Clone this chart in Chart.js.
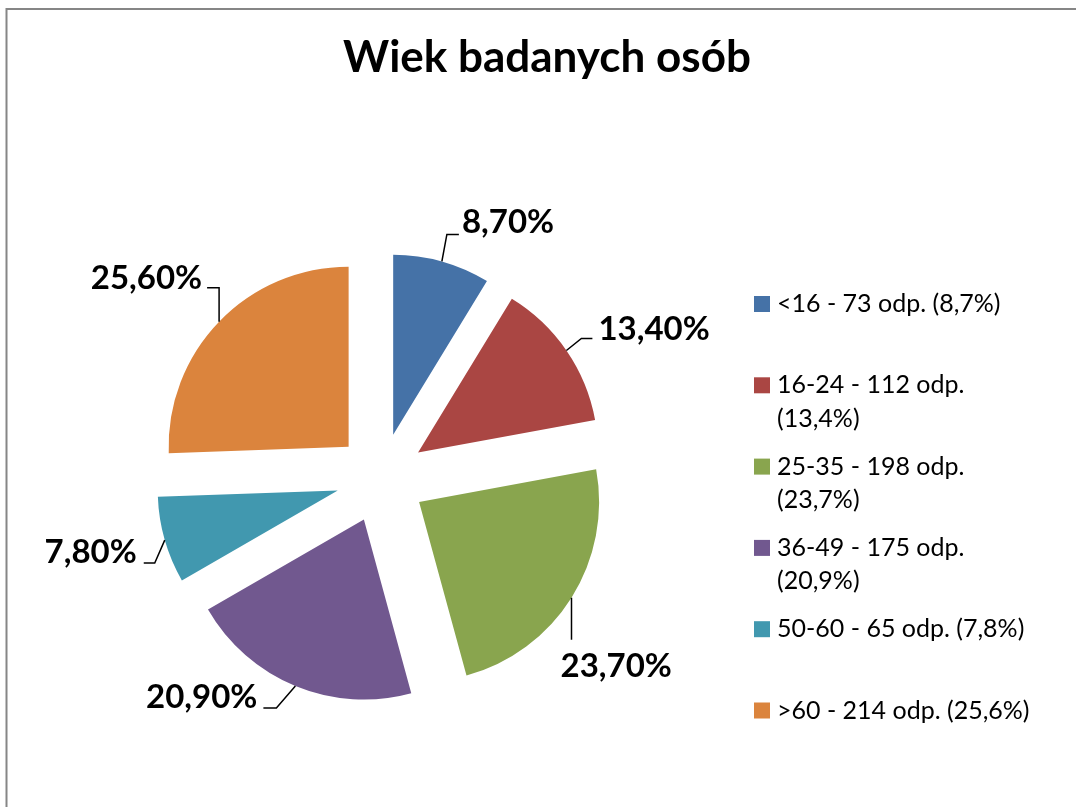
<!DOCTYPE html>
<html>
<head>
<meta charset="utf-8">
<script src="https://cdn.jsdelivr.net/npm/chart.js@4"></script>
<style>
  html, body { margin: 0; padding: 0; background: #fff; }
  canvas { display: block; }
</style>
</head>
<body>
<canvas id="ageChart" width="1076" height="807"></canvas>
<script>
// Data
const chartTitle = 'Wiek badanych osób';
const categories = ['<16', '16-24', '25-35', '36-49', '50-60', '>60'];
const counts = [73, 112, 198, 175, 65, 214];
const percents = [8.7, 13.4, 23.7, 20.9, 7.8, 25.6];
const legendLabels = [
  ['<16 - 73 odp. (8,7%)'],
  ['16-24 - 112 odp.', '(13,4%)'],
  ['25-35 - 198 odp.', '(23,7%)'],
  ['36-49 - 175 odp.', '(20,9%)'],
  ['50-60 - 65 odp. (7,8%)'],
  ['>60 - 214 odp. (25,6%)']
];
const colors = ['#4572A7', '#AA4643', '#89A54E', '#71588F', '#4198AF', '#DB843D'];

const EXPLODE = 45;
const FONT = 'Lato, "Open Sans", sans-serif';

// leader line: elbow / end relative to slice edge, text relative to slice edge
const leaders = [
  { elbow: [5, -27], end: [17, -27], text: [20, -28], align: 'left' },
  { elbow: [15, -12], end: [26, -12], text: [32, -11], align: 'left' },
  { elbow: [0, 42], end: [0, 42], text: [-11, 79], align: 'left' },
  { elbow: [-19, 22], end: [-32, 22], text: [-38, 22], align: 'right' },
  { elbow: [-10, 23], end: [-21, 23], text: [-28, 23], align: 'right' },
  { elbow: [0, -34], end: [-12, -34], text: [-17, -33], align: 'right' }
];

const fmtPct = p => p.toFixed(2).replace('.', ',') + '%';

// draw slices pulled out from the centre
const explodePlugin = {
  id: 'explode',
  beforeDatasetDraw(chart, args) {
    const ctx = chart.ctx;
    args.meta.data.forEach(arc => {
      const mid = (arc.startAngle + arc.endAngle) / 2;
      ctx.save();
      ctx.translate(Math.cos(mid) * EXPLODE, Math.sin(mid) * EXPLODE);
      arc.draw(ctx);
      ctx.restore();
    });
    return false;
  }
};

// percent labels with leader lines
const labelPlugin = {
  id: 'pctLabels',
  afterDatasetsDraw(chart) {
    const ctx = chart.ctx;
    const arcs = chart.getDatasetMeta(0).data;
    ctx.save();
    ctx.strokeStyle = '#000';
    ctx.lineWidth = 1.5;
    ctx.fillStyle = '#000';
    ctx.font = 'bold 33px ' + FONT;
    ctx.textBaseline = 'alphabetic';
    arcs.forEach((arc, i) => {
      const mid = (arc.startAngle + arc.endAngle) / 2;
      const r = arc.outerRadius + EXPLODE;
      const ax = arc.x + Math.cos(mid) * r;
      const ay = arc.y + Math.sin(mid) * r;
      const l = leaders[i];
      ctx.beginPath();
      ctx.moveTo(ax, ay);
      ctx.lineTo(ax + l.elbow[0], ay + l.elbow[1]);
      ctx.lineTo(ax + l.end[0], ay + l.end[1]);
      ctx.stroke();
      ctx.textAlign = l.align;
      ctx.fillText(fmtPct(percents[i]), ax + l.text[0], ay + l.text[1]);
    });
    ctx.restore();
  }
};

// title, legend and frame
const decorPlugin = {
  id: 'decor',
  afterDraw(chart) {
    const ctx = chart.ctx;
    ctx.save();
    ctx.strokeStyle = '#868686';
    ctx.lineWidth = 2;
    ctx.beginPath();
    ctx.moveTo(6.5, 807);
    ctx.lineTo(6.5, 9);
    ctx.lineTo(1076, 9);
    ctx.stroke();

    ctx.fillStyle = '#000';
    ctx.font = 'bold 44px ' + FONT;
    ctx.textAlign = 'center';
    ctx.fillText(chartTitle, 547, 72);

    ctx.font = '25px ' + FONT;
    ctx.textAlign = 'left';
    chart.data.labels.forEach((lines, i) => {
      const base = 312 + i * 81.3;
      ctx.fillStyle = colors[i];
      ctx.fillRect(754, base - 16, 16, 16);
      ctx.fillStyle = '#000';
      lines.forEach((t, j) => ctx.fillText(t, 777, base + j * 33.5));
    });
    ctx.restore();
  }
};

new Chart(document.getElementById('ageChart'), {
  type: 'pie',
  data: {
    labels: legendLabels,
    datasets: [{
      data: counts,
      backgroundColor: colors,
      borderWidth: 0
    }]
  },
  options: {
    responsive: false,
    animation: false,
    layout: { padding: { left: 201, top: 298, right: 515, bottom: 149 } },
    plugins: {
      legend: { display: false },
      title: { display: false },
      tooltip: { enabled: false }
    }
  },
  plugins: [explodePlugin, labelPlugin, decorPlugin]
});
</script>
</body>
</html>
